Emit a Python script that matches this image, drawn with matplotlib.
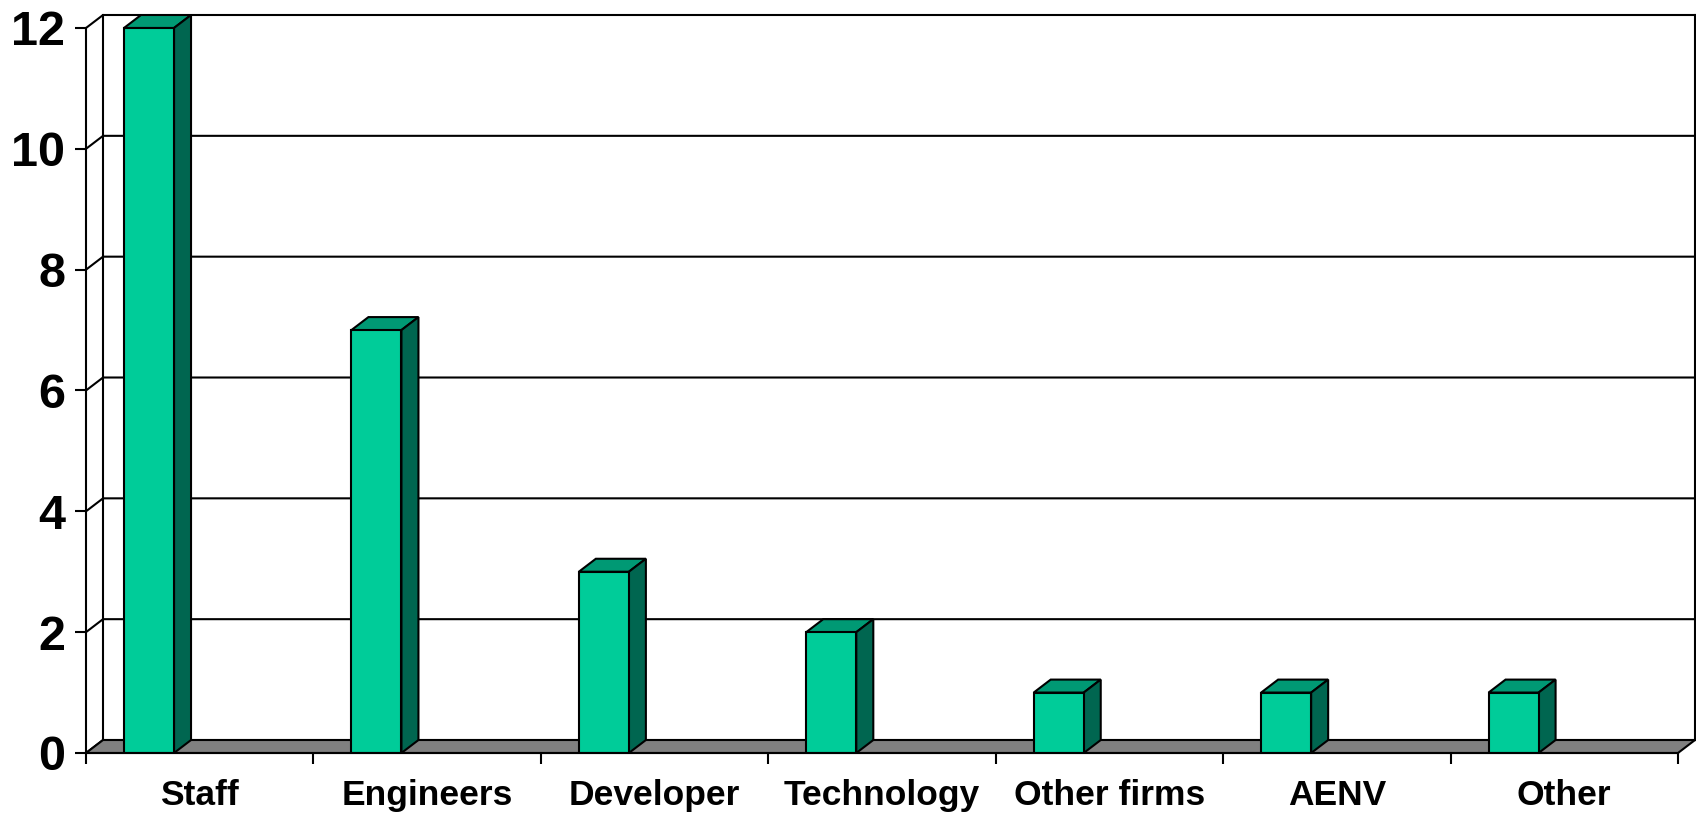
import numpy as np
import matplotlib.pyplot as plt
from matplotlib.patches import Polygon

categories = ["Staff", "Engineers", "Developer", "Technology", "Other firms", "AENV", "Other"]
values = [12, 7, 3, 2, 1, 1, 1]
yticks = [0, 2, 4, 6, 8, 10, 12]

plt.rcParams['font.family'] = ['Liberation Sans', 'DejaVu Sans']
plt.rcParams['font.weight'] = 'bold'

front = "#00CC99"
top = "#009974"
side = "#006650"
floor = "#808080"

# depth of the fake 3d effect, in data units
dx = 0.0748
dy = 0.215
ymax = 12
n = len(categories)

fig = plt.figure(figsize=(16.96, 8.14), dpi=100)
ax = fig.add_axes([86 / 1696, 61 / 814, (1695 - 86) / 1696, (753 - 15) / 814])
ax.set_xlim(0, n + dx)
ax.set_ylim(0, ymax + dy)

lw = 1.5
# walls and gridlines
for y in yticks:
    ax.plot([0, dx, n + dx], [y, y + dy, y + dy], color="black", lw=lw, zorder=1, clip_on=False)
ax.plot([dx, dx], [dy, ymax + dy], color="black", lw=lw, zorder=1, clip_on=False)
ax.plot([n + dx, n + dx], [dy, ymax + dy], color="black", lw=lw, zorder=1, clip_on=False)

# floor
ax.add_patch(Polygon([(0, 0), (n, 0), (n + dx, dy), (dx, dy)], closed=True,
                     facecolor=floor, edgecolor="black", lw=lw, zorder=2, clip_on=False))

# bars
x = np.arange(n)
x0 = x + 0.167
w = 0.22
ax.bar(x0, values, width=w, align="edge", color=front, edgecolor="black", lw=lw, zorder=4)
for left, v in zip(x0, values):
    right = left + w
    ax.add_patch(Polygon([(left, v), (right, v), (right + dx, v + dy), (left + dx, v + dy)],
                         closed=True, facecolor=top, edgecolor="black", lw=lw, zorder=3))
    ax.add_patch(Polygon([(right, 0), (right + dx, dy), (right + dx, v + dy), (right, v)],
                         closed=True, facecolor=side, edgecolor="black", lw=lw, zorder=3))

for s in ["top", "right"]:
    ax.spines[s].set_visible(False)
ax.spines["left"].set_bounds(0, ymax)
ax.spines["bottom"].set_bounds(0, n)
ax.spines["left"].set_linewidth(lw)
ax.spines["bottom"].set_linewidth(lw)
ax.spines["left"].set_zorder(5)
ax.spines["bottom"].set_zorder(5)

ax.set_yticks(yticks)
ax.set_yticklabels([str(t) for t in yticks], fontsize=35, fontweight="bold")
ax.tick_params(axis="y", direction="out", length=8, width=lw, pad=7)

ax.set_xticks(np.arange(n + 1))
ax.set_xticklabels([])
ax.set_xticks(x + 0.5, minor=True)
ax.set_xticklabels(categories, minor=True, fontsize=25.5, fontweight="bold")
ax.tick_params(axis="x", which="major", direction="out", length=8, width=lw)
ax.tick_params(axis="x", which="minor", length=0, pad=19)

ax.patch.set_visible(False)
fig.savefig("out.png", dpi=100)
